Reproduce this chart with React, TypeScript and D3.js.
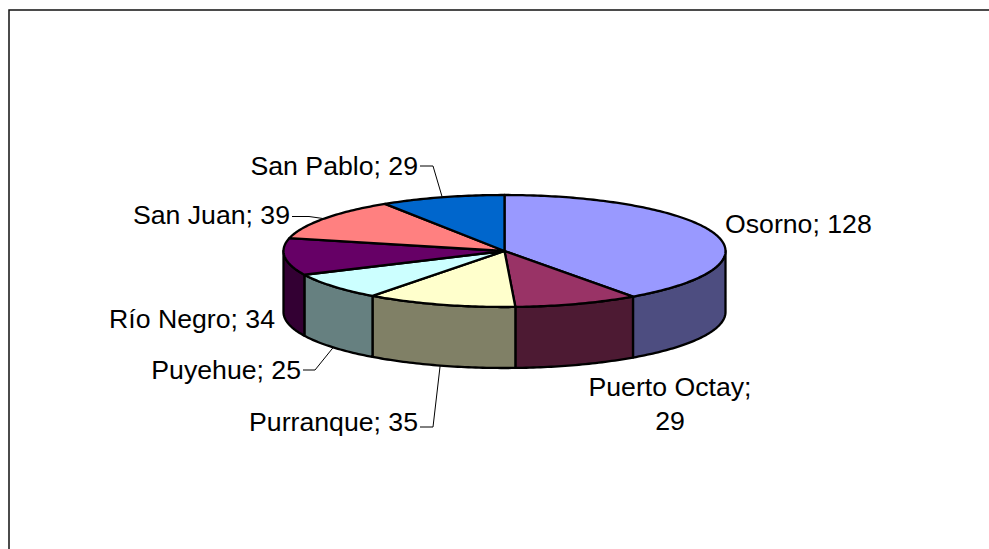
import React from "react";
import * as d3 from "d3";

const categories = ["Osorno", "Puerto Octay", "Purranque", "Puyehue", "Río Negro", "San Juan", "San Pablo"];
const values = [128, 29, 35, 25, 34, 39, 29];
const topColors = ["#9999FF", "#993366", "#FFFFCC", "#CCFFFF", "#660066", "#FF8080", "#0066CC"];
const sideColors = ["#4D4D80", "#4D1A33", "#808066", "#668080", "#330033", "#804040", "#003366"];

const width = 989;
const height = 549;
const cx = 504.5;
const cy = 251;
const rx = 221;
const ry = 56;
const depth = 61;

const xs = d3.scaleLinear().domain([-1, 1]).range([cx - rx, cx + rx]);
const ys = d3.scaleLinear().domain([-1, 1]).range([cy - ry, cy + ry]);

// angle 0 is the top of the ellipse, running clockwise
const px = (a: number) => xs(Math.sin(a));
const py = (a: number, dz = 0) => ys(-Math.cos(a)) + dz;

const arcPoints = (a0: number, a1: number, dz = 0): [number, number][] => {
  const n = Math.max(2, Math.ceil((a1 - a0) * 60));
  return d3.range(n + 1).map((i) => {
    const a = a0 + ((a1 - a0) * i) / n;
    return [px(a), py(a, dz)] as [number, number];
  });
};

const line = d3.line();
const slices = d3.pie<number>().sort(null).startAngle(0).endAngle(2 * Math.PI)(values);

// where each label sits: text anchor point, leader elbow
const labelLayout = [
  { lines: ["Osorno; 128"], x: 725, y: 233, anchor: "start" },
  { lines: ["Puerto Octay;", "29"], x: 670, y: 396, anchor: "middle" },
  { lines: ["Purranque; 35"], x: 418, y: 430.5, anchor: "end", leader: [420, 433, 427], side: true },
  { lines: ["Puyehue; 25"], x: 301, y: 378.5, anchor: "end", leader: [303, 315, 370], side: true },
  { lines: ["Río Negro; 34"], x: 275, y: 328, anchor: "end" },
  { lines: ["San Juan; 39"], x: 290, y: 224, anchor: "end", leader: [292, 309, 216.5] },
  { lines: ["San Pablo; 29"], x: 418, y: 175, anchor: "end", leader: [420, 433, 166] },
];

const App: React.FC = () => {
  const walls = slices
    .map((s, i) => ({ i, a0: Math.max(s.startAngle, Math.PI / 2), a1: Math.min(s.endAngle, 1.5 * Math.PI) }))
    .filter((w) => w.a1 > w.a0);

  return (
    <svg
      width={width}
      height={height}
      style={{ position: "absolute", left: 0, top: 0, background: "#fff" }}
      fontFamily="'Liberation Sans', Arial, sans-serif"
    >
      <path d="M9,549V10H989" fill="none" stroke="#111" strokeWidth={1.5} />

      {walls.map((w) => (
        <path
          key={w.i}
          d={line([...arcPoints(w.a0, w.a1), ...arcPoints(w.a0, w.a1, depth).reverse()]) + "Z"}
          fill={sideColors[w.i]}
          stroke="#000"
          strokeWidth={2.3}
          strokeLinejoin="round"
        />
      ))}

      {slices.map((s, i) => (
        <path
          key={categories[i]}
          d={line([[cx, cy], ...arcPoints(s.startAngle, s.endAngle)]) + "Z"}
          fill={topColors[i]}
          stroke="#000"
          strokeWidth={2.3}
          strokeLinejoin="round"
        />
      ))}

      {labelLayout.map((l, i) => {
        const mid = (slices[i].startAngle + slices[i].endAngle) / 2;
        return (
          <g key={categories[i]}>
            {l.leader && (
              <polyline
                points={`${l.leader[0]},${l.leader[2]} ${l.leader[1]},${l.leader[2]} ${px(mid)},${py(mid, l.side ? depth : 0)}`}
                fill="none"
                stroke="#000"
                strokeWidth={1}
              />
            )}
            {l.lines.map((t, k) => (
              <text key={k} x={l.x} y={l.y + k * 34} textAnchor={l.anchor} fontSize={26.67} fill="#000">
                {t}
              </text>
            ))}
          </g>
        );
      })}
    </svg>
  );
};

export default App;
